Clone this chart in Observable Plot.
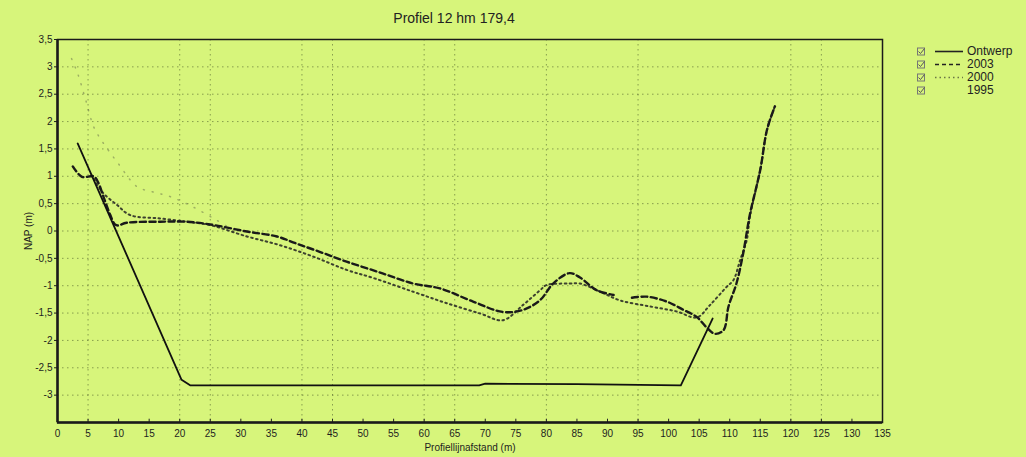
<!DOCTYPE html>
<html>
<head>
<meta charset="utf-8">
<script src="https://cdn.jsdelivr.net/npm/d3@7"></script>
<script src="https://cdn.jsdelivr.net/npm/@observablehq/plot@0.6"></script>
<style>
  html, body { margin: 0; padding: 0; background: #d7f57b; }
  #wrap { position: relative; width: 1026px; height: 457px; background: #d7f57b; font-family: "Liberation Sans", Arial, sans-serif; }
  #title { position: absolute; left: 0; width: 908px; top: 10px; text-align: center; font-size: 14px; color: #222; }
  #legend { position: absolute; left: 915px; top: 45px; font-size: 12px; color: #222; }
  .row { height: 13px; display: flex; align-items: center; }
  .row svg { display: block; }
  .row span { margin-left: 2px; line-height: 13px; }
</style>
</head>
<body>
<div id="wrap">
  <div id="title">Profiel 12 hm 179,4</div>
  <div id="legend"></div>
</div>
<script>
// ---- data ----
const seriesNames = ["Ontwerp", "2003", "2000", "1995"];

const ontwerpX = [3.3, 20.3, 21.7, 50, 69, 70, 85, 102, 107.2];
const ontwerpY = [1.6, -2.72, -2.82, -2.82, -2.82, -2.79, -2.8, -2.82, -1.6];

const y2003X = [2.5, 4, 5.9, 6.6, 7.6, 8.6, 9.4, 9.9, 11.3, 16.8, 21, 25.5, 31, 35.9, 39.1, 42.9, 47.3, 52.8, 58.2, 62.6, 68, 72.9, 76.2, 79, 81.1, 83.8, 85.5, 88.2, 91, 92.5, 94, 96.4, 99.7, 102.4, 104.6, 106.2, 107.6, 109, 109.8, 111.1, 112.2, 113.3, 115, 116.1, 117.4];
const y2003Y = [1.18, 0.99, 1.0, 0.9, 0.6, 0.3, 0.12, 0.1, 0.15, 0.17, 0.17, 0.11, -0.01, -0.1, -0.23, -0.38, -0.56, -0.76, -0.96, -1.05, -1.29, -1.48, -1.44, -1.26, -0.96, -0.77, -0.85, -1.08, -1.17, NaN, -1.22, -1.2, -1.29, -1.44, -1.57, -1.76, -1.88, -1.81, -1.38, -0.96, -0.41, 0.3, 1.12, 1.85, 2.28];

const y2000X = [5.5, 5.9, 7.5, 9.7, 11.9, 16.8, 21.1, 24.9, 31, 36.4, 41.9, 47.3, 51.7, 58.2, 63.7, 69.2, 72.9, 76.2, 79, 80, 83.8, 85.5, 88.8, 92.1, 97, 101.3, 104.6, 106.8, 109.5, 110.6, 111.7, 112.8, 113.3, 115, 116.1, 117.4];
const y2000Y = [1.02, 0.96, 0.69, 0.48, 0.29, 0.23, 0.17, 0.11, -0.1, -0.26, -0.47, -0.71, -0.86, -1.11, -1.32, -1.51, -1.63, -1.35, -1.08, -0.99, -0.96, -0.96, -1.11, -1.27, -1.38, -1.47, -1.58, -1.35, -1.02, -0.9, -0.53, -0.16, 0.26, 1.12, 1.85, 2.28];

const y1995X = [2.3, 3.3, 4.6, 5.9, 7, 8.3, 9.9, 13, 15.4, 18.4, 22, 26, 29];
const y1995Y = [3.15, 2.88, 2.4, 1.91, 1.69, 1.48, 1.24, 0.81, 0.72, 0.63, 0.45, 0.2, 0.0];

const xTicks = d3.range(0, 136, 5);
const yTicks = [-3, -2.5, -2, -1.5, -1, -0.5, 0, 0.5, 1, 1.5, 2, 2.5, 3, 3.5];
const gridY = [-3, -2.5, -2, -1.5, -1, -0.5, 0, 0.5, 1, 1.5, 2, 2.5, 3];
const gridX = [5, 20, 25, 40, 45, 60, 65, 80, 95, 120, 125];

// ---- build ----
const toRows = (xs, ys) => xs.map((x, i) => ({x, y: ys[i]}));
const ontwerp = toRows(ontwerpX, ontwerpY);
const s2003 = toRows(y2003X, y2003Y);
const s2000 = toRows(y2000X, y2000Y);
const s1995 = toRows(y1995X, y1995Y);
const fmt = d => String(d).replace(".", ",");

const chart = Plot.plot({
  width: 1026,
  height: 457,
  marginLeft: 57,
  marginRight: 144,
  marginTop: 39,
  marginBottom: 35,
  style: {background: "transparent", fontFamily: "Liberation Sans, Arial, sans-serif", fontSize: "10px", color: "#1e1e1e"},
  x: {domain: [0, 135], ticks: xTicks, tickFormat: fmt, tickSize: 0, tickPadding: 7, label: "Profiellijnafstand (m)", labelAnchor: "center", labelArrow: "none", labelOffset: 28},
  y: {domain: [-3.5, 3.5], ticks: yTicks, tickFormat: fmt, tickSize: 3, tickPadding: 2, label: "NAP (m)", labelAnchor: "center", labelArrow: "none", labelOffset: 33},
  marks: [
    Plot.ruleY(gridY, {stroke: "#3a4a20", strokeOpacity: 0.5, strokeDasharray: "1.5,3.5"}),
    Plot.ruleX(gridX, {stroke: "#3a4a20", strokeOpacity: 0.5, strokeDasharray: "1.5,3.5"}),
    Plot.ruleX(xTicks, {y1: -3.5, y2: -3.44, stroke: "#222"}),
    Plot.frame({stroke: "#1a1a1a", strokeWidth: 1.5}),
    Plot.ruleX([0], {stroke: "#1a1a1a", strokeWidth: 2.5}),
    Plot.ruleY([-3.5], {stroke: "#1a1a1a", strokeWidth: 2.5}),
    Plot.line(s1995, {x: "x", y: "y", curve: "catmull-rom", stroke: "#333", strokeWidth: 1.5, strokeOpacity: 0.35, strokeDasharray: "1,8", strokeLinecap: "round"}),
    Plot.line(s2000, {x: "x", y: "y", curve: "catmull-rom", stroke: "#222", strokeWidth: 2, strokeDasharray: "1.6,3.4", strokeOpacity: 0.85}),
    Plot.line(s2003, {x: "x", y: "y", curve: "catmull-rom", stroke: "#1a1a1a", strokeWidth: 2.4, strokeDasharray: "6,3.5"}),
    Plot.line(ontwerp, {x: "x", y: "y", curve: "linear", stroke: "#111", strokeWidth: 1.8})
  ]
});
document.getElementById("wrap").prepend(chart);
chart.style.position = "absolute";
chart.style.left = "0";
chart.style.top = "0";

// ---- legend ----
const legendStyles = {
  "Ontwerp": {dash: null, op: 1},
  "2003": {dash: "4,3", op: 1},
  "2000": {dash: "1.5,3", op: 0.6},
  "1995": null
};
const legend = document.getElementById("legend");
for (const name of seriesNames) {
  const st = legendStyles[name];
  const row = document.createElement("div");
  row.className = "row";
  let line = "";
  if (st) line = `<line x1="20" x2="48" y1="6.5" y2="6.5" stroke="#222" stroke-width="1.6" stroke-opacity="${st.op}" ${st.dash ? `stroke-dasharray="${st.dash}"` : ""}/>`;
  row.innerHTML = `<svg width="50" height="13"><rect x="2.5" y="3" width="7" height="7" fill="none" stroke="#777" stroke-width="1"/><path d="M3.5 6.5 L5.5 8.5 L9.5 3.5" fill="none" stroke="#555" stroke-width="1"/>${line}</svg><span>${name}</span>`;
  legend.appendChild(row);
}
</script>
</body>
</html>
